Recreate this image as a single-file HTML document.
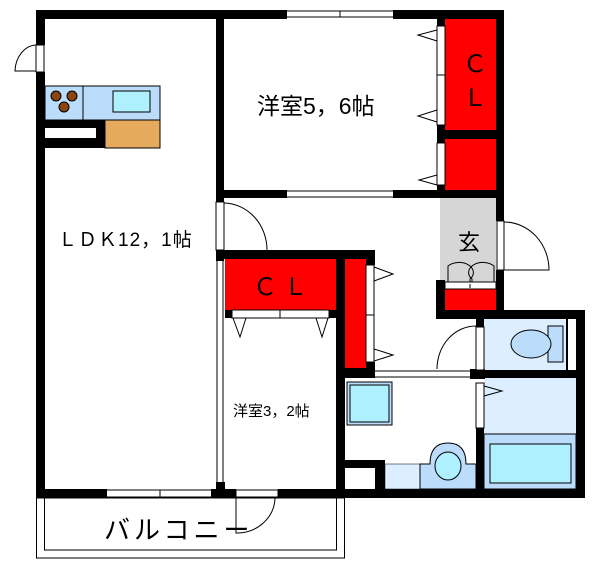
<!DOCTYPE html>
<html><head><meta charset="utf-8"><style>
html,body{margin:0;padding:0;background:#fff;}
svg{display:block;}
text{font-family:"Liberation Sans","Noto Sans CJK JP",sans-serif;fill:#000;}
</style></head><body>
<svg width="604" height="588" viewBox="0 0 604 588" xmlns="http://www.w3.org/2000/svg">
<rect width="604" height="588" fill="#fff"/>
<rect x="445" y="19" width="51" height="111" fill="#f00"/>
<rect x="445" y="139" width="51" height="51" fill="#f00"/>
<rect x="440" y="198" width="56" height="84" fill="#d6d6d6"/>
<rect x="445" y="289" width="51" height="21" fill="#f00"/>
<rect x="225" y="259" width="111" height="51" fill="#f00"/>
<rect x="345" y="259" width="21" height="109" fill="#f00"/>
<rect x="484" y="319" width="83" height="51" fill="#dceeff"/>
<rect x="484" y="378" width="92" height="56" fill="#dceeff"/>
<rect x="484" y="434" width="92" height="55" fill="#bcdcfb" stroke="#000"/>
<rect x="490" y="444" width="81" height="39" fill="#aef0fd" stroke="#000"/>
<rect x="548" y="326" width="15" height="36" fill="#bcdcfb" stroke="#000"/>
<ellipse cx="531" cy="344" rx="20" ry="14" fill="#bcdcfb" stroke="#000"/>
<rect x="347" y="382" width="45" height="43" fill="#bcdcfb" stroke="#000"/>
<rect x="350" y="385" width="39" height="37" fill="#aef0fd" stroke="#000"/>
<rect x="385" y="464" width="36" height="25" fill="#dceeff" stroke="#000" stroke-width="0.5"/>
<path d="M420,489 V464 H430 C430,450 436,443 448,443 C460,443 466,450 466,464 H476 V489Z" fill="#bcdcfb" stroke="#000"/>
<ellipse cx="448" cy="466" rx="13" ry="14" fill="#aef0fd" stroke="#000"/>
<rect x="45" y="86" width="115" height="34" fill="#bcdcfb" stroke="#000"/>
<line x1="83" y1="86" x2="83" y2="120" stroke="#000"/>
<rect x="113" y="91" width="37" height="21" fill="#aef0fd" stroke="#000"/>
<circle cx="56" cy="96" r="5" fill="#8b4513" stroke="#000"/>
<circle cx="72" cy="96" r="5" fill="#8b4513" stroke="#000"/>
<circle cx="64" cy="107" r="5" fill="#8b4513" stroke="#000"/>
<rect x="45" y="120" width="60" height="28" fill="#000"/>
<rect x="45" y="128" width="51" height="10" fill="#fff"/>
<rect x="105" y="120" width="55" height="28" fill="#e6aa5e" stroke="#000"/>
<g fill="#000">
<rect x="36" y="10" width="251" height="9"/>
<rect x="393" y="10" width="111" height="9"/>
<rect x="36" y="10" width="9" height="35"/>
<rect x="36" y="72" width="9" height="426"/>
<rect x="216" y="10" width="8" height="192"/>
<rect x="216" y="250" width="8" height="11"/>
<rect x="224" y="190" width="63" height="8"/>
<rect x="393" y="190" width="111" height="8"/>
<rect x="496" y="10" width="8" height="211"/>
<rect x="496" y="270" width="8" height="49"/>
<rect x="437" y="19" width="8" height="7"/>
<rect x="437" y="125" width="8" height="18"/>
<rect x="437" y="185" width="8" height="5"/>
<rect x="445" y="130" width="51" height="9"/>
<rect x="436" y="280" width="9" height="38"/>
<rect x="436" y="310" width="149" height="9"/>
<rect x="216" y="250" width="159" height="9"/>
<rect x="336" y="259" width="9" height="239"/>
<rect x="366" y="250" width="9" height="15"/>
<rect x="366" y="362" width="9" height="8"/>
<rect x="345" y="368" width="30" height="10"/>
<rect x="470" y="369" width="15" height="10"/>
<rect x="484" y="370" width="101" height="8"/>
<rect x="476" y="319" width="8" height="8"/>
<rect x="476" y="428" width="8" height="70"/>
<rect x="566" y="319" width="2" height="51"/>
<rect x="576" y="310" width="9" height="188"/>
<rect x="225" y="310" width="7" height="8"/>
<rect x="329" y="310" width="7" height="8"/>
<rect x="216" y="482" width="9" height="16"/>
<rect x="36" y="489" width="71" height="9"/>
<rect x="211" y="489" width="25" height="9"/>
<rect x="278" y="489" width="307" height="9"/>
<rect x="345" y="460" width="40" height="38"/>
</g>
<rect x="345" y="468" width="30" height="21" fill="#fff"/>
<g stroke="#000" fill="none" stroke-width="1">
<line x1="287" y1="11" x2="393" y2="11"/><line x1="287" y1="17" x2="393" y2="17"/><line x1="340" y1="11" x2="340" y2="17"/>
<line x1="287" y1="191" x2="393" y2="191"/><line x1="287" y1="197" x2="393" y2="197"/>
<line x1="107" y1="490" x2="211" y2="490"/><line x1="107" y1="497" x2="211" y2="497"/><line x1="160" y1="490" x2="160" y2="497"/>
<line x1="217" y1="261" x2="217" y2="482"/><line x1="223" y1="261" x2="223" y2="482"/>
<line x1="375" y1="371" x2="470" y2="371"/><line x1="375" y1="377" x2="470" y2="377"/>
<rect x="437" y="26" width="8" height="99" fill="#fff"/><line x1="437" y1="75" x2="445" y2="75"/>
<rect x="437" y="143" width="8" height="42" fill="#fff"/>
<path d="M437,30 L418,35 L437,41"/><path d="M437,110 L418,116 L437,122"/><path d="M437,175 L419,180 L437,185"/>
<rect x="232" y="310" width="97" height="8" fill="#fff"/><line x1="280" y1="310" x2="280" y2="318"/>
<path d="M233,318 L240,337 L246,318"/><path d="M316,318 L322,337 L328,318"/>
<rect x="366" y="265" width="8" height="97" fill="#fff"/><line x1="366" y1="315" x2="374" y2="315"/>
<path d="M374,267 L393,274 L374,281"/><path d="M374,349 L393,355 L374,361"/>
<rect x="476" y="327" width="8" height="43" fill="#fff"/>
<rect x="476" y="383" width="8" height="45" fill="#fff"/>
<path d="M484,386 L502,391 L484,396"/>
<rect x="36" y="45" width="8" height="27" fill="#fff"/>
<path d="M36,45 A22,27 0 0 0 15,71 L36,71"/>
<rect x="216" y="202" width="8" height="48" fill="#fff"/>
<path d="M224,203 A44,47 0 0 1 267,250"/>
<rect x="497" y="221" width="7" height="49" fill="#fff"/>
<path d="M504,222 A45,48 0 0 1 549,270 L504,270"/>
<path d="M476,326 A39,43 0 0 0 437,369"/>
<rect x="236" y="490" width="42" height="7" fill="#fff"/>
<path d="M236,498 L236,533 A38,36 0 0 0 275,498"/>
<rect x="445" y="282" width="51" height="7" fill="#fff"/><line x1="470" y1="284" x2="470" y2="288"/>
<path d="M448,282 V266 A10,7 0 0 1 470,279 V282"/><path d="M494,282 V266 A10,7 0 0 0 472,279 V282"/>
<rect x="36.5" y="498" width="308" height="60"/>
<rect x="44.5" y="498" width="292" height="52"/>
</g>
<text x="58" y="246" font-size="19" letter-spacing="1">ＬＤＫ12，1帖</text>
<text x="257" y="114" font-size="23">洋室5，6帖</text>
<text x="463" y="72" font-size="24">Ｃ</text>
<text x="463" y="106" font-size="24">Ｌ</text>
<text x="253" y="295" font-size="24">Ｃ Ｌ</text>
<text x="458" y="250" font-size="22">玄</text>
<text x="233" y="416" font-size="15">洋室3，2帖</text>
<text x="104" y="539" font-size="26" letter-spacing="4">バルコニー</text>
</svg>
</body></html>
